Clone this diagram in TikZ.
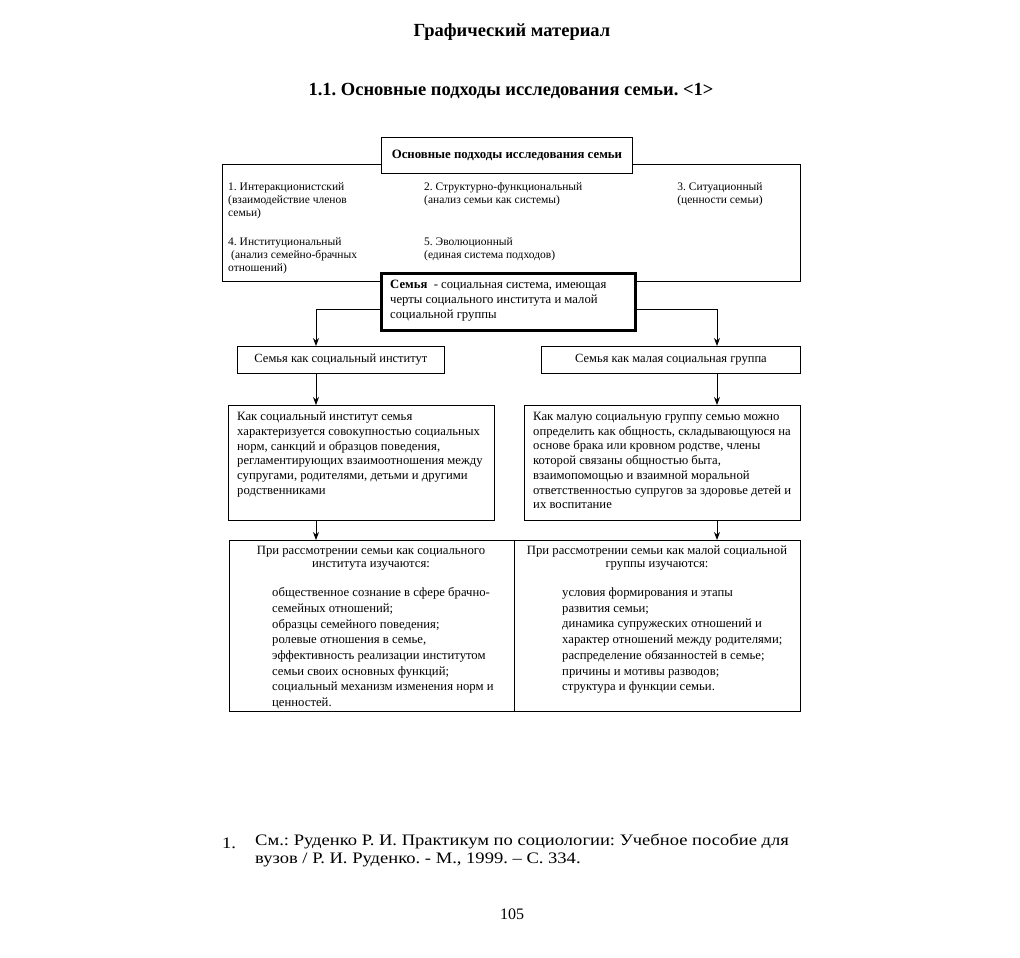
\documentclass[tikz,border=0pt]{standalone}
\usepackage{fontspec}
\setmainfont{Liberation Serif}
\newfontfamily\widefont[FakeStretch=1.16]{Liberation Serif}
\usetikzlibrary{arrows.meta}
\frenchspacing
\begin{document}
\begin{tikzpicture}[x=1pt,y=-1pt,
  box/.style={draw, line width=0.9pt, inner sep=0pt, anchor=north west, fill=white},
  txt/.style={inner sep=0pt, anchor=north west, align=left, font=\fontsize{12.7}{14.7}\selectfont},
  small/.style={inner sep=0pt, anchor=north west, align=left, font=\fontsize{11.5}{12.8}\selectfont},
  items/.style={inner sep=0pt, anchor=north west, align=left, font=\fontsize{12.7}{15.7}\selectfont},
  arr/.style={-{Stealth[length=8pt,width=6pt]}, line width=0.9pt}]
\useasboundingbox (0,0) rectangle (1020,958);
\fill[white] (0,0) rectangle (1020,958);
% titles
\node[font=\fontsize{18.5}{22}\selectfont\bfseries] (title) at (512,32) {Графический материал};
\node[font=\fontsize{18.5}{22}\selectfont\bfseries] (sub) at (511,91) {1.1. Основные подходы исследования семьи. <1>};
% top block
\node[box, minimum width=578pt, minimum height=117pt] (big) at (222,164) {};
\node[box, minimum width=251pt, minimum height=36pt, font=\fontsize{12.8}{15}\selectfont\bfseries] (head) at (381,137) {Основные подходы исследования семьи};
\node[small] (a1) at (228,182.5) {1. Интеракционистский\\(взаимодействие членов\\семьи)};
\node[small] (a2) at (424,182.5) {2. Структурно-функциональный\\(анализ семьи как системы)};
\node[small, anchor=north, align=center] (a3) at (720,182.5) {3. Ситуационный\\(ценности семьи)};
\node[small] (a4) at (228,237.5) {4. Институциональный\\\hspace{3pt}(анализ семейно-брачных\\отношений)};
\node[small] (a5) at (424,237.5) {5. Эволюционный\\(единая система подходов)};
% family box
\node[box, line width=2.6pt, minimum width=254pt, minimum height=57pt] (semya) at (380,272) {};
\node[txt] (semyat) at (390,280) {\textbf{Семья} \ - социальная система, имеющая\\черты социального института и малой\\социальной группы};
% column coordinates
\coordinate (cl) at (316,0);
\coordinate (cr) at (717,0);
% category boxes
\node[box, minimum width=207pt, minimum height=27pt, font=\fontsize{12.5}{14}\selectfont] (inst) at (237,346) {Семья как социальный институт};
\node[box, minimum width=259pt, minimum height=27pt, font=\fontsize{12.5}{14}\selectfont] (grp) at (541,346) {Семья как малая социальная группа};
% description boxes
\node[box, minimum width=266pt, minimum height=115pt] (descl) at (228,405) {};
\node[txt] (desclt) at (237,412) {Как социальный институт семья\\характеризуется совокупностью социальных\\норм, санкций и образцов поведения,\\регламентирующих взаимоотношения между\\супругами, родителями, детьми и другими\\родственниками};
\node[box, minimum width=276pt, minimum height=115pt] (descr) at (524,405) {};
\node[txt] (descrt) at (533,412) {Как малую социальную группу семью можно\\определить как общность, складывающуюся на\\основе брака или кровном родстве, члены\\которой связаны общностью быта,\\взаимопомощью и взаимной моральной\\ответственностью супругов за здоровье детей и\\их воспитание};
% bottom boxes
\node[box, minimum width=285pt, minimum height=171pt] (botl) at (229,540) {};
\node[box, minimum width=286pt, minimum height=171pt] (botr) at (514,540) {};
\node[txt, anchor=north, align=center, font=\fontsize{12.7}{13}\selectfont] (botlh) at (371,546) {При рассмотрении семьи как социального\\института изучаются:};
\node[items] (botli) at (272,587.5) {общественное сознание в сфере брачно-\\семейных отношений;\\образцы семейного поведения;\\ролевые отношения в семье,\\эффективность реализации институтом\\семьи своих основных функций;\\социальный механизм изменения норм и\\ценностей.};
\node[txt, anchor=north, align=center, font=\fontsize{12.7}{13}\selectfont] (botrh) at (657,546) {При рассмотрении семьи как малой социальной\\группы изучаются:};
\node[items] (botri) at (562,587.5) {условия формирования и этапы\\развития семьи;\\динамика супружеских отношений и\\характер отношений между родителями;\\распределение обязанностей в семье;\\причины и мотивы разводов;\\структура и функции семьи.};
% connectors
\draw[arr] ([yshift=-7.5pt]semya.west) -| (inst.north -| cl);
\draw[arr] ([yshift=-7.5pt]semya.east) -| (grp.north -| cr);
\draw[arr] (inst.south -| cl) -- (descl.north -| cl);
\draw[arr] (grp.south -| cr) -- (descr.north -| cr);
\draw[arr] (descl.south -| cl) -- (botl.north -| cl);
\draw[arr] (descr.south -| cr) -- (botr.north -| cr);
% footnote
\node[inner sep=0pt, anchor=west, font=\fontsize{16}{18}\selectfont\widefont] (fn1) at (222,843) {1.};
\node[inner sep=0pt, anchor=north west, align=left, font=\fontsize{16}{18}\selectfont\widefont] (fn) at (255,834) {См.: Руденко Р. И. Практикум по социологии: Учебное пособие для\\вузов / Р. И. Руденко. - М., 1999. – С. 334.};
\node[font=\fontsize{16}{18}\selectfont] (page) at (512,914) {105};
\end{tikzpicture}
\end{document}
